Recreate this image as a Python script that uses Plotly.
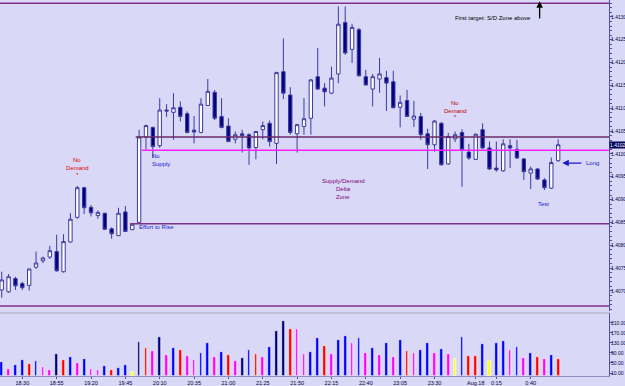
import plotly.graph_objects as go

# ---------------- data ----------------
# 5-minute bars starting 18:15 (index 0) through 01:00 (index 81)
start_minutes = 18 * 60 + 15
times = []
for i in range(82):
    m = (start_minutes + 5 * i) % (24 * 60)
    times.append(f"{m // 60}:{m % 60:02d}")

open_ = [1.40702, 1.40698, 1.40727, 1.40716, 1.40712, 1.40752, 1.40766, 1.40774, 1.40786, 1.40742,
         1.40807, 1.40861, 1.40926, 1.40883, 1.40865, 1.40870, 1.40836, 1.40821, 1.40873, 1.40834,
         1.40850, 1.41037, 1.41058, 1.41018, 1.41096, 1.41091, 1.41102, 1.41088, 1.41052, 1.41047,
         1.41106, 1.41135, 1.41082, 1.41061, 1.41032, 1.41044, 1.41042, 1.41014, 1.41053, 1.41067,
         1.41023, 1.41180, 1.41129, 1.41044, 1.41060, 1.41078, 1.41169, 1.41144, 1.41133, 1.41175,
         1.41288, 1.41229, 1.41272, 1.41169, 1.41142, 1.41164, 1.41167, 1.41158, 1.41102, 1.41117,
         1.41076, 1.41082, 1.41044, 1.41020, 1.41067, 1.40978, 1.41033, 1.41047, 1.41004, 1.40988,
         1.41053, 1.41013, 1.40969, 1.40963, 1.41018, 1.41010, 1.40989, 1.40958, 1.40967, 1.40943,
         1.40925, 1.40985]
high = [1.40742, 1.40737, 1.40731, 1.40720, 1.40748, 1.40786, 1.40775, 1.40799, 1.40823, 1.40824,
        1.40870, 1.40930, 1.40928, 1.40888, 1.40876, 1.40871, 1.40839, 1.40882, 1.40886, 1.40847,
        1.41053, 1.41064, 1.41060, 1.41122, 1.41109, 1.41133, 1.41115, 1.41093, 1.41083, 1.41122,
        1.41164, 1.41140, 1.41122, 1.41078, 1.41049, 1.41053, 1.41045, 1.41049, 1.41071, 1.41073,
        1.41180, 1.41253, 1.41146, 1.41066, 1.41122, 1.41164, 1.41232, 1.41155, 1.41191, 1.41323,
        1.41323, 1.41285, 1.41276, 1.41184, 1.41175, 1.41210, 1.41182, 1.41182, 1.41128, 1.41140,
        1.41116, 1.41090, 1.41055, 1.41074, 1.41070, 1.41046, 1.41049, 1.41054, 1.41022, 1.41045,
        1.41067, 1.41027, 1.41027, 1.41032, 1.41032, 1.41031, 1.40991, 1.40972, 1.40969, 1.40947,
        1.40992, 1.41032]
low = [1.40685, 1.40696, 1.40702, 1.40702, 1.40701, 1.40748, 1.40761, 1.40770, 1.40742, 1.40740,
       1.40806, 1.40858, 1.40868, 1.40863, 1.40858, 1.40834, 1.40814, 1.40820, 1.40829, 1.40833,
       1.40847, 1.41009, 1.40991, 1.41013, 1.41081, 1.41031, 1.41071, 1.41045, 1.41023, 1.41045,
       1.41105, 1.41074, 1.41056, 1.41026, 1.41023, 1.41003, 1.40976, 1.40988, 1.41032, 1.41016,
       1.40978, 1.41120, 1.41042, 1.41003, 1.41042, 1.41042, 1.41140, 1.41104, 1.41131, 1.41155,
       1.41217, 1.41199, 1.41170, 1.41150, 1.41104, 1.41134, 1.41094, 1.41100, 1.41058, 1.41081,
       1.41059, 1.41031, 1.40967, 1.41005, 1.40975, 1.40976, 1.41026, 1.40928, 1.40987, 1.40987,
       1.41011, 1.40965, 1.40961, 1.40961, 1.40969, 1.40989, 1.40943, 1.40923, 1.40943, 1.40921,
       1.40923, 1.40983]
close = [1.40724, 1.40731, 1.40711, 1.40707, 1.40748, 1.40761, 1.40772, 1.40788, 1.40744, 1.40808,
         1.40857, 1.40926, 1.40882, 1.40871, 1.40872, 1.40835, 1.40825, 1.40870, 1.40830, 1.40846,
         1.41037, 1.41062, 1.41016, 1.41096, 1.41094, 1.41101, 1.41082, 1.41047, 1.41048, 1.41109,
         1.41137, 1.41078, 1.41058, 1.41027, 1.41042, 1.41040, 1.41013, 1.41049, 1.41062, 1.41027,
         1.41178, 1.41133, 1.41047, 1.41064, 1.41077, 1.41162, 1.41142, 1.41136, 1.41166, 1.41284,
         1.41221, 1.41277, 1.41171, 1.41151, 1.41169, 1.41175, 1.41155, 1.41101, 1.41113, 1.41082,
         1.41083, 1.41042, 1.41020, 1.41072, 1.40976, 1.41038, 1.41042, 1.41009, 1.40991, 1.41043,
         1.41013, 1.40967, 1.40965, 1.41022, 1.41013, 1.40991, 1.40961, 1.40967, 1.40945, 1.40926,
         1.40981, 1.41020]

volume = [55, 26, 42, 62, 47, 58, 34, 22, 87, 63,
          75, 51, 66, 26, 21, 39, 22, 31, 42, 15,
          135, 111, 98, 154, 82, 110, 103, 79, 63, 91,
          131, 75, 94, 82, 58, 69, 102, 86, 75, 115,
          177, 219, 187, 187, 87, 95, 151, 118, 87, 142,
          158, 131, 149, 91, 111, 81, 131, 75, 142, 98,
          91, 102, 130, 91, 107, 85, 67, 155, 78, 78,
          126, 58, 129, 137, 102, 115, 71, 91, 75, 66,
          81, 67]
# volume classification: B=normal, N=climax, R=high churn, M=low, Y=low volume
volume_type = list("BMBBRBMMNR" "BMBMMBRBBY" "NRMNMBRMMB" "BMBRMNBRMB" "NNRMMBBRMB"
                   "BMBMBMBMBR" "MBBMBMYBRR" "BYBBMBMBRM" "BR")

tick_times = ["18:30", "18:55", "19:20", "19:45", "20:10", "20:35", "21:00", "21:25", "21:50",
              "22:15", "22:40", "23:05", "23:30", "0:00", "0:15", "0:40"]
tick_labels = ["18:30", "18:55", "19:20", "19:45", "20:10", "20:35", "21:00", "21:25", "21:50",
               "22:15", "22:40", "23:05", "23:30", "Aug.18", "0:15", "0:40"]

price_ticks = [1.4070, 1.4075, 1.4080, 1.4085, 1.4090, 1.4095, 1.4100,
               1.4105, 1.4110, 1.4115, 1.4120, 1.4125, 1.4130]
volume_ticks = [10, 50, 90, 130, 170, 210]

# horizontal levels: price, first bar index (None = full width), colour key
level_price = [1.41330, 1.41037, 1.41008, 1.40847, 1.40667]
level_start = [None, 19.5, 20.4, 18.7, None]
level_kind = ["zone", "dark", "magenta", "zone", "zone"]

last_price = 1.41020

# ---------------- styling ----------------
BG = "#d9d9f7"
FONT = "Liberation Sans"
vol_colors = {"B": "#0000ff", "N": "#000080", "R": "#ff0000", "M": "#ff00ff", "Y": "#ffff00"}
level_colors = {"zone": "#80308a", "dark": "#6a2868", "magenta": "#ff20ff"}
BLUE_TXT = "#1a1acc"
AX_FONT = dict(family=FONT, size=5.5, color="#000040")
RAX_FONT = dict(family=FONT, size=5, color="#000040")

x_idx = list(range(len(open_)))
X_MIN, X_MAX = -0.25, 88.4

fig = go.Figure()
fig.add_trace(go.Candlestick(
    x=x_idx, open=open_, high=high, low=low, close=close,
    increasing=dict(fillcolor="#ffffff", line=dict(color="#3a3aa0", width=1)),
    decreasing=dict(fillcolor="#000080", line=dict(color="#3a3aa0", width=1)),
    whiskerwidth=0, xaxis="x", yaxis="y", showlegend=False, hoverinfo="skip"))
fig.add_trace(go.Bar(
    x=x_idx, y=volume, width=0.4,
    marker=dict(color=[vol_colors[t] for t in volume_type], line=dict(color="#ffffff", width=0.6)),
    xaxis="x", yaxis="y2", showlegend=False, hoverinfo="skip"))

shapes = []
for p, s, k in zip(level_price, level_start, level_kind):
    shapes.append(dict(type="line", xref="x", yref="y",
                       x0=X_MIN if s is None else s, x1=X_MAX, y0=p, y1=p,
                       line=dict(color=level_colors[k], width=1.6)))
# panel separator
shapes.append(dict(type="line", xref="paper", yref="paper", x0=0, x1=1, y0=0.1676, y1=0.1676,
                   line=dict(color="#a8a8b8", width=1)))

tick_pos = [times.index(t) for t in tick_times]

ann = []
def txt(x, y, text, color, xanchor="center", size=6):
    ann.append(dict(x=x, y=y, xref="x", yref="y", text=text, showarrow=False,
                    xanchor=xanchor, yanchor="middle", font=dict(family=FONT, size=size, color=color)))

# No Demand (first)
txt(11, 1.40986, "No", "#e00000")
txt(11, 1.40970, "Demand", "#e00000")
txt(11, 1.40954, "*", "#e00000")
# No Supply
txt(21.6, 1.40995, "No", BLUE_TXT, xanchor="left")
txt(21.6, 1.40978, "Supply", BLUE_TXT, xanchor="left")
# Effort to Rise
txt(19.7, 1.40839, "Effort to Rise", BLUE_TXT, xanchor="left")
# Supply/Demand Delta Zone
txt(49.7, 1.40941, "Supply/Demand", "#800080")
txt(49.7, 1.40923, "Delta", "#800080")
txt(49.7, 1.40906, "Zone", "#800080")
# No Demand (second)
txt(66, 1.41111, "No", "#c00000")
txt(66, 1.41095, "Demand", "#c00000")
txt(66, 1.41081, "*", "#c00000")
# Test
txt(78.9, 1.40891, "Test", BLUE_TXT)
# Long
txt(84.7, 1.40980, "Long", BLUE_TXT, xanchor="left")
ann.append(dict(x=81.6, y=1.40980, ax=84.6, ay=1.40980, xref="x", yref="y", axref="x", ayref="y",
                text="", showarrow=True, arrowhead=2, arrowsize=1, arrowwidth=1.3, arrowcolor="#1a1acc"))
# First target
txt(77.4, 1.41298, "First target: S/D Zone above", "#000000", xanchor="right")
ann.append(dict(x=78.3, y=1.41334, ax=78.3, ay=1.41293, xref="x", yref="y", axref="x", ayref="y",
                text="", showarrow=True, arrowhead=2, arrowsize=1, arrowwidth=1.3, arrowcolor="#000000"))
# current price label
ann.append(dict(x=1, y=last_price, xref="paper", yref="y", text=f"{last_price:.4f}", showarrow=False,
                xanchor="left", yanchor="middle", bgcolor="#00005a", borderpad=0, xshift=0,
                font=RAX_FONT | dict(color="#ffffff")))

fig.update_layout(
    width=625, height=386,
    margin=dict(l=0, r=16, t=0, b=10, autoexpand=False),
    paper_bgcolor=BG, plot_bgcolor=BG,
    font=dict(family=FONT, size=6, color="#000030"),
    bargap=0,
    shapes=shapes, annotations=ann,
    xaxis=dict(domain=[0, 1], range=[X_MIN, X_MAX], anchor="y2", automargin=False,
               tickvals=tick_pos, ticktext=tick_labels, ticks="outside", ticklen=2,
               tickcolor="#5050a0", tickfont=AX_FONT, ticklabelstandoff=-1,
               showgrid=False, zeroline=False, showline=True, linecolor="#9090c0", linewidth=1,
               rangeslider=dict(visible=False)),
    yaxis=dict(domain=[0.1729, 1], range=[1.40656, 1.41337], side="right", anchor="x",
               automargin=False,
               tickvals=price_ticks, ticktext=[f"{v:.4f}" for v in price_ticks],
               ticks="outside", ticklen=3, tickcolor="#5050a0", ticklabelstandoff=-3,
               minor=dict(dtick=0.0001, ticklen=2, tickcolor="#5050a0", ticks="outside"),
               tickfont=RAX_FONT,
               showgrid=False, zeroline=False, showline=True, linecolor="#5050a0", linewidth=1),
    yaxis2=dict(domain=[0, 0.1676], range=[-2, 250], side="right", anchor="x",
                automargin=False,
                tickvals=volume_ticks, ticktext=[f"{v:.2f}" for v in volume_ticks],
                ticks="outside", ticklen=3, tickcolor="#5050a0", ticklabelstandoff=-3,
                tickfont=RAX_FONT,
                showgrid=False, zeroline=False, showline=True, linecolor="#5050a0", linewidth=1),
)

fig.write_html("out.html")
